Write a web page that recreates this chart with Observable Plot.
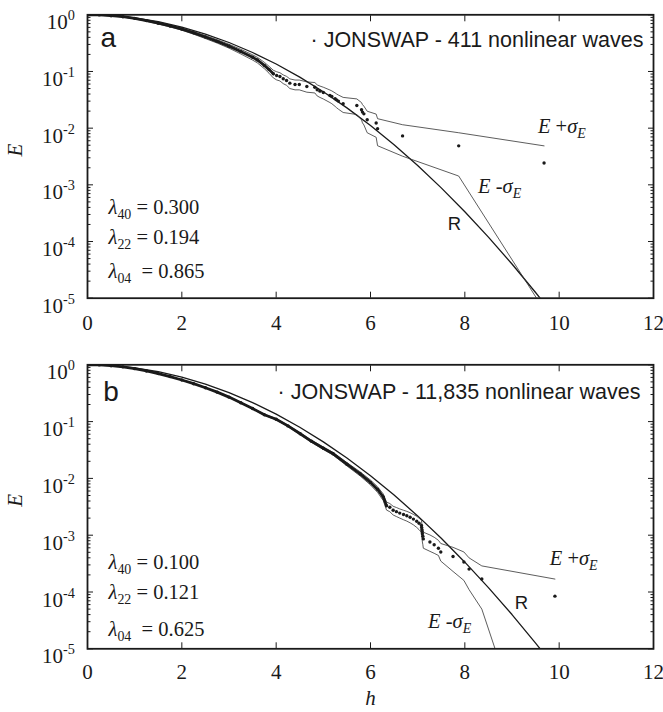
<!DOCTYPE html>
<html><head><meta charset="utf-8">
<script src="https://cdn.jsdelivr.net/npm/d3@7"></script>
<script src="https://cdn.jsdelivr.net/npm/@observablehq/plot@0.6"></script>
<style>
body{margin:0;background:#fff}
#chart{width:663px;height:712px;overflow:hidden}
svg{display:block}
</style>
</head><body><div id="chart"></div>
<script>
// ---- Rayleigh reference curve R ----
const hR = [0,0.5,1,1.5,2,2.5,3,3.5,4,4.5,5,5.5,6,6.5,7,7.5,8,8.5,9,9.5,9.7];
const ER = [1,0.9692,0.8825,0.7548,0.6065,0.4578,0.3247,0.2163,0.1353,0.0796,0.0439,0.0228,0.01111,0.005086,0.002187,0.000884,0.000335,0.0001196,0.0000401,0.0000126,0.0000078];

// ---- Panel a: JONSWAP, 411 waves ----
const hA = [0,0.25,0.5,0.75,1,1.25,1.5,1.75,2,2.25,2.5,2.75,3,3.25,3.5,3.6,3.75,3.85,3.94,4.01,4.08,4.15,4.22,4.29,4.40,4.49,4.65,4.82,4.87,4.93,5.0,5.14,5.18,5.25,5.28,5.32,5.42,5.71,5.81,5.83,5.86,5.93,6.12,6.15,6.68,7.87,9.68];
const EA = [1,0.995,0.965,0.925,0.865,0.79,0.71,0.635,0.56,0.48,0.405,0.34,0.28,0.225,0.178,0.16,0.128,0.108,0.091,0.085,0.0816,0.0743,0.0694,0.0622,0.059,0.059,0.0543,0.0528,0.0475,0.045,0.0427,0.0377,0.0362,0.033,0.0316,0.030,0.0269,0.0251,0.0211,0.0192,0.0179,0.0141,0.0123,0.0098,0.0073,0.00487,0.00243];
const EplusA = [1,0.998,0.974,0.938,0.882,0.810,0.732,0.659,0.585,0.505,0.429,0.363,0.302,0.246,0.197,0.178,0.145,0.123,0.105,0.099,0.095,0.087,0.082,0.074,0.0706,0.0706,0.0655,0.0638,0.058,0.0552,0.0527,0.0471,0.0454,0.0418,0.0402,0.0384,0.0349,0.0328,0.0282,0.026,0.0244,0.0199,0.0177,0.0147,0.0115,0.0083,0.00487];
const EminusA = [1,0.992,0.956,0.912,0.848,0.770,0.688,0.611,0.536,0.455,0.381,0.317,0.258,0.204,0.159,0.142,0.112,0.093,0.077,0.071,0.068,0.061,0.057,0.050,0.0474,0.0474,0.0431,0.0418,0.037,0.0348,0.0327,0.0283,0.027,0.0242,0.023,0.0216,0.0189,0.0174,0.014,0.0124,0.0114,0.0083,0.0069,0.0049,0.0032,0.00143,0.0000062];

// ---- Panel b: JONSWAP, 11,835 waves ----
const hB = [0,0.25,0.5,0.75,1,1.25,1.5,1.75,2,2.25,2.5,2.75,3,3.25,3.5,3.75,4,4.25,4.51,4.75,5,5.21,5.5,5.78,6,6.15,6.27,6.34,6.41,6.48,6.55,6.62,6.70,6.77,6.84,6.91,6.98,7.03,7.08,7.085,7.09,7.095,7.10,7.11,7.12,7.26,7.35,7.44,7.49,7.75,7.98,8.09,8.36,9.91];
const EB = [1,0.995,0.965,0.92,0.855,0.78,0.70,0.62,0.54,0.465,0.395,0.33,0.27,0.215,0.17,0.132,0.11,0.084,0.061,0.045,0.034,0.0271,0.0178,0.01205,0.0085,0.0064,0.0047,0.0033,0.0031,0.00275,0.0026,0.00245,0.00231,0.0022,0.00207,0.00192,0.00176,0.00162,0.00148,0.00136,0.00125,0.00115,0.00106,0.00096,0.00086,0.00076,0.00068,0.00059,0.000507,0.000422,0.000338,0.000253,0.000169,0.0000845];
const EplusB = [1,0.9956,0.9667,0.9225,0.8582,0.7838,0.7042,0.6245,0.5446,0.4696,0.3995,0.3343,0.2741,0.2188,0.1735,0.1351,0.1129,0.0866,0.0632,0.0469,0.0357,0.0286,0.0190,0.01305,0.00935,0.00713,0.00533,0.00383,0.00361,0.00323,0.00307,0.00290,0.00275,0.00263,0.00249,0.00232,0.00215,0.00199,0.00183,0.0017,0.00157,0.00146,0.00136,0.00124,0.00113,0.00101,0.00092,0.000813,0.000714,0.000611,0.000507,0.000399,0.000288,0.000169];
const EminusB = [1,0.9944,0.9633,0.9175,0.8518,0.7762,0.6958,0.6155,0.5354,0.4604,0.3905,0.3257,0.2659,0.2112,0.1665,0.1289,0.1071,0.0815,0.0588,0.0431,0.0323,0.0256,0.0166,0.01105,0.00766,0.00567,0.00407,0.00277,0.00259,0.00227,0.00213,0.0020,0.00187,0.00177,0.00165,0.00152,0.00137,0.00125,0.00113,0.00102,0.00093,0.00084,0.00076,0.00068,0.00059,0.00052,0.00048,0.00044,0.00035,0.00023,0.00016,0.00011,0.00005,0.000000007];

// ---- ticks & labels ----
const xTickValues = [0,2,4,6,8,10,12];
const xTickMarks = [2,4,6,8,10];
const yTickValues = [1,1e-1,1e-2,1e-3,1e-4,1e-5];
const yTickExps = ["0","-1","-2","-3","-4","-5"];
const lambdaNames = ["40","22","04"];
const lambdaA = ["0.300","0.194","0.865"];
const lambdaB = ["0.100","0.121","0.625"];
const waveCounts = ["411","11,835"];
const panelLetters = ["a","b"];

const SERIF = "'Liberation Serif','Times New Roman',Times,serif";
const SANS = "'Liberation Sans',Arial,Helvetica,sans-serif";
const INK = "#1a1a1a";

const yMinor = d3.scaleLog().domain([1e-5,1]).ticks()
  .filter(v => !yTickValues.some(t => Math.abs(v/t - 1) < 1e-9));

function rich(svg) {
  const NS = "http://www.w3.org/2000/svg";
  svg.querySelectorAll("text").forEach(t => {
    // make the family from the mark's group authoritative
    const g = t.closest("g[font-family]");
    if (g) t.style.fontFamily = g.getAttribute("font-family");
    const s = t.textContent;
    if (!/\*|_\{|\^\{/.test(s)) return;
    t.textContent = "";
    t.setAttributeNS("http://www.w3.org/XML/1998/namespace", "xml:space", "preserve");
    t.style.whiteSpace = "pre";
    const parts = s.split(/(\*[^*]+\*|_\{[^}]*\}|\^\{[^}]*\})/).filter(p => p !== "");
    let shift = 0;
    for (const p of parts) {
      const ts = document.createElementNS(NS, "tspan");
      let content = p, target = 0, italic = false, small = false;
      if (p.startsWith("*")) { content = p.slice(1, -1); italic = true; }
      else if (p.startsWith("_{")) { content = p.slice(2, -1); target = 5; small = true; if (/^[A-Za-z]$/.test(content)) italic = true; }
      else if (p.startsWith("^{")) { content = p.slice(2, -1); target = -9; small = true; }
      if (target - shift !== 0) ts.setAttribute("dy", target - shift);
      shift = target;
      if (italic) ts.setAttribute("font-style", "italic");
      if (small) ts.setAttribute("font-size", "0.68em");
      ts.textContent = content;
      t.appendChild(ts);
    }
  });
}

function panel(cfg) {
  const rows = cfg.h.map((h, i) => ({h, E: cfg.E[i], Ep: cfg.Ep[i], Em: cfg.Em[i]}));
  const rRows = hR.map((h, i) => ({h, E: ER[i]}));
  const lam = cfg.lambdas.map((v, i) => `*λ*_{${lambdaNames[i]}}${i === 2 ? "  " : " "}= ${v}`);
  const marks = [
    Plot.line(rRows, {x: "h", y: "E", stroke: INK, strokeWidth: 1.3, clip: true}),
    Plot.line(rows, {x: "h", y: "Ep", stroke: "#333", strokeWidth: 0.8, clip: true}),
    Plot.line(rows, {x: "h", y: "Em", stroke: "#333", strokeWidth: 0.8, clip: true}),
    Plot.line(rows.filter(d => d.h <= cfg.denseMax), {x: "h", y: "E", stroke: INK, strokeWidth: 2.8, clip: true}),
    Plot.dot(rows, {x: "h", y: "E", r: 1.7, fill: INK, clip: true}),
    // ticks (inward)
    Plot.axisX(xTickMarks, {anchor: "bottom", tickSize: 6, dy: -6, fill: "none", stroke: INK}),
    Plot.axisX(xTickMarks, {anchor: "top", tickSize: 6, dy: 6, fill: "none", stroke: INK}),
    Plot.axisY(yTickValues, {anchor: "left", tickSize: 6, dx: 6, fill: "none", stroke: INK}),
    Plot.axisY(yTickValues, {anchor: "right", tickSize: 6, dx: -6, fill: "none", stroke: INK}),
    Plot.axisY(yMinor, {anchor: "left", tickSize: 3.5, dx: 3.5, fill: "none", stroke: INK}),
    Plot.axisY(yMinor, {anchor: "right", tickSize: 3.5, dx: -3.5, fill: "none", stroke: INK}),
    Plot.frame({stroke: INK, strokeWidth: 1.8}),
    // tick labels
    Plot.text(xTickValues, {x: d => d, frameAnchor: "bottom", dy: cfg.xLabelDy, lineAnchor: "bottom", text: d => String(d), fontFamily: SERIF, fontSize: 21, fill: INK}),
    Plot.text(yTickValues, {y: d => d, frameAnchor: "left", dx: -12.5, dy: 14.5, textAnchor: "end", lineAnchor: "bottom", text: (d, i) => `10^{${yTickExps[i]}}`, fontFamily: SERIF, fontSize: 21, fill: INK}),
    Plot.text(["E"], {frameAnchor: "left", dx: -72, rotate: -90, text: d => d, fontFamily: SERIF, fontStyle: "italic", fontSize: 21, fill: INK}),
    // annotations
    Plot.text([cfg.letter], {frameAnchor: "top-left", dx: cfg.letterDx, dy: cfg.letterDy, textAnchor: "start", lineAnchor: "bottom", text: d => d, fontFamily: SANS, fontSize: 28, fill: INK}),
    Plot.text([`· JONSWAP - ${cfg.n} nonlinear waves`], {frameAnchor: "top-right", dx: cfg.titleDx, dy: cfg.titleDy, textAnchor: "end", lineAnchor: "bottom", text: d => d, fontFamily: SANS, fontSize: 21.5, fill: INK}),
    ...lam.map((s, i) => Plot.text([s], {frameAnchor: "bottom-left", dx: 21, dy: cfg.lamDy[i], textAnchor: "start", lineAnchor: "bottom", text: d => d, fontFamily: SERIF, fontSize: 20.5, fill: INK})),
    Plot.text(["*E* +*σ*_{E}"], {x: cfg.plusAt[0], y: cfg.plusAt[1], textAnchor: "start", lineAnchor: "bottom", text: d => d, fontFamily: SERIF, fontSize: 20.5, fill: INK}),
    Plot.text(["*E* -*σ*_{E}"], {x: cfg.minusAt[0], y: cfg.minusAt[1], textAnchor: "start", lineAnchor: "bottom", text: d => d, fontFamily: SERIF, fontSize: 20.5, fill: INK}),
    Plot.text(["R"], {x: cfg.rAt[0], y: cfg.rAt[1], textAnchor: "start", lineAnchor: "bottom", text: d => d, fontFamily: SANS, fontSize: 18.5, fill: INK})
  ];
  if (cfg.showH) marks.push(Plot.text(["h"], {x: 6, frameAnchor: "bottom", dy: 56, lineAnchor: "bottom", text: d => d, fontFamily: SERIF, fontStyle: "italic", fontSize: 21, fill: INK}));
  const svg = Plot.plot({
    width: 663, height: cfg.height,
    marginLeft: 87, marginRight: 10, marginTop: 14.3, marginBottom: cfg.marginBottom,
    style: {background: "#fff", overflow: "visible"},
    x: {domain: [0, 12], label: null},
    y: {type: "log", domain: [1e-5, 1], label: null},
    marks
  });
  rich(svg);
  return svg;
}

const chart = document.getElementById("chart");
chart.appendChild(panel({
  h: hA, E: EA, Ep: EplusA, Em: EminusA, denseMax: 3.94,
  letter: panelLetters[0], n: waveCounts[0], lambdas: lambdaA,
  height: 350, marginBottom: 52.3, xLabelDy: 32,
  letterDx: 13, letterDy: 32.4, titleDx: -10, titleDy: 32.2,
  lamDy: [-84.7, -54.7, -20.5],
  plusAt: [9.55, 8.07e-3], minusAt: [8.28, 7.05e-4], rAt: [7.64, 1.57e-4],
  showH: false
}));
chart.appendChild(panel({
  h: hB, E: EB, Ep: EplusB, Em: EminusB, denseMax: 6.34,
  letter: panelLetters[1], n: waveCounts[1], lambdas: lambdaB,
  height: 362, marginBottom: 63.7, xLabelDy: 30,
  letterDx: 15.7, letterDy: 35.7, titleDx: -13, titleDy: 33.7,
  lamDy: [-79.8, -49.5, -13.3],
  plusAt: [9.80, 2.93e-4], minusAt: [7.22, 2.37e-5], rAt: [9.06, 4.92e-5],
  showH: true
}));
</script>
</body></html>
